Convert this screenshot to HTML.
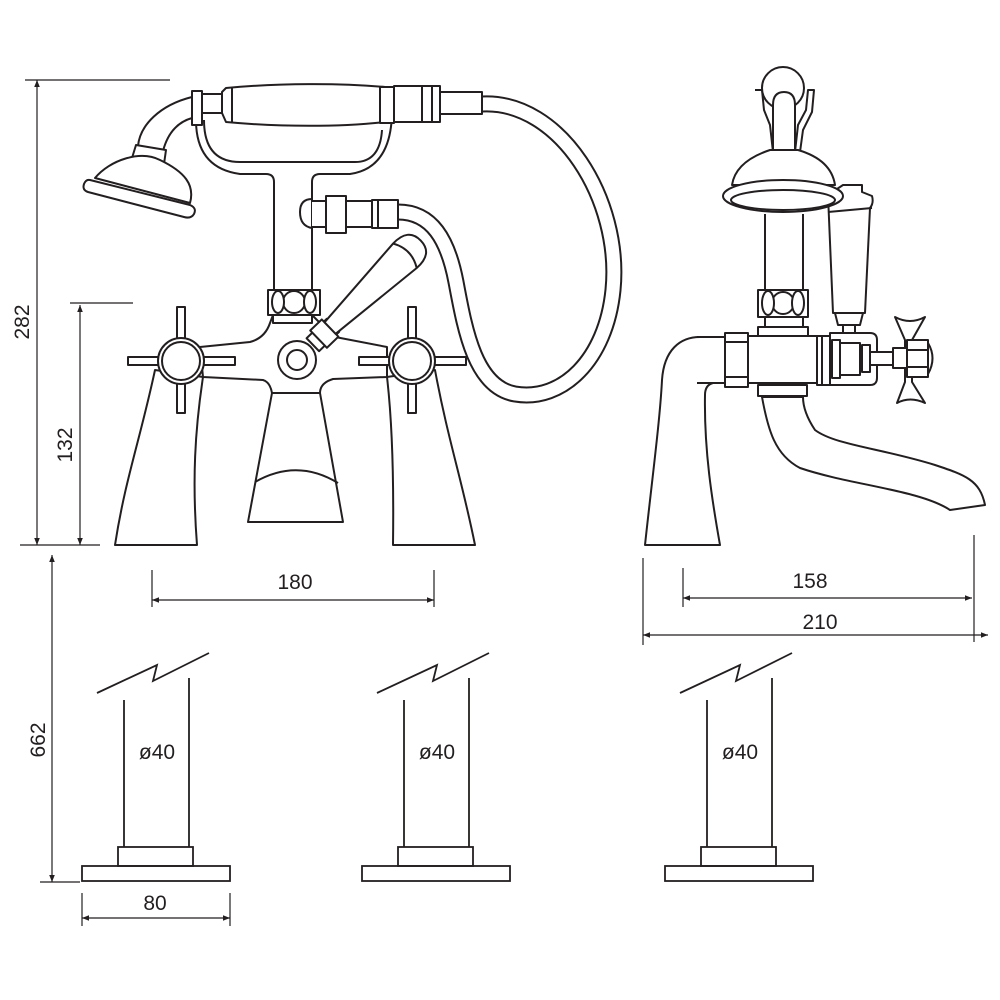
<!DOCTYPE html>
<html><head><meta charset="utf-8"><style>
html,body{margin:0;padding:0;background:#fff;width:1000px;height:1000px;overflow:hidden}
svg{display:block}
text{font-family:"Liberation Sans",sans-serif;fill:#231f20}
</style></head><body>
<svg width="1000" height="1000" viewBox="0 0 1000 1000" xmlns="http://www.w3.org/2000/svg">
<defs>
<marker id="ar" viewBox="0 0 10 10" refX="10" refY="5" markerWidth="9" markerHeight="7" orient="auto-start-reverse" markerUnits="userSpaceOnUse"><path d="M0,1 L10,5 L0,9 z" fill="#231f20"/></marker>
</defs>
<g fill="none" stroke="#231f20" stroke-width="1.2">
<!-- dimension lines -->
<line x1="25" y1="80" x2="170" y2="80"/>
<line x1="20" y1="545" x2="100" y2="545"/>
<line x1="37" y1="80" x2="37" y2="545" marker-start="url(#ar)" marker-end="url(#ar)"/>
<line x1="70" y1="303" x2="133" y2="303"/>
<line x1="80" y1="305" x2="80" y2="545" marker-start="url(#ar)" marker-end="url(#ar)"/>
<line x1="152" y1="570" x2="152" y2="607"/>
<line x1="434" y1="570" x2="434" y2="607"/>
<line x1="152" y1="600" x2="434" y2="600" marker-start="url(#ar)" marker-end="url(#ar)"/>
<line x1="683" y1="568" x2="683" y2="607"/>
<line x1="974" y1="535" x2="974" y2="642"/>
<line x1="683" y1="598" x2="972" y2="598" marker-start="url(#ar)" marker-end="url(#ar)"/>
<line x1="643" y1="558" x2="643" y2="645"/>
<line x1="643" y1="635" x2="988" y2="635" marker-start="url(#ar)" marker-end="url(#ar)"/>
<line x1="40" y1="882" x2="80" y2="882"/>
<line x1="52" y1="555" x2="52" y2="882" marker-start="url(#ar)" marker-end="url(#ar)"/>
<line x1="82" y1="893" x2="82" y2="926"/>
<line x1="230" y1="893" x2="230" y2="926"/>
<line x1="82" y1="918" x2="230" y2="918" marker-start="url(#ar)" marker-end="url(#ar)"/>
</g>
<g fill="none" stroke="#231f20" stroke-width="1.8">
<!-- pillars -->
<g id="pil">
<rect x="82" y="866" width="148" height="15"/>
<rect x="118" y="847" width="75" height="19"/>
<line x1="124" y1="700" x2="124" y2="847"/>
<line x1="189" y1="678" x2="189" y2="847"/>
<polyline points="97,693 157,665 153,681 209,653"/>
</g>
<use href="#pil" x="280"/>
<use href="#pil" x="583"/>
</g>
<g font-size="21" text-anchor="middle">
<text x="157" y="759">ø40</text>
<text x="437" y="759">ø40</text>
<text x="740" y="759">ø40</text>
<text x="155" y="910">80</text>
<text x="295" y="589">180</text>
<text x="810" y="588">158</text>
<text x="820" y="629">210</text>
<text transform="translate(29,322) rotate(-90)">282</text>
<text transform="translate(72,445) rotate(-90)">132</text>
<text transform="translate(45,740) rotate(-90)">662</text>
</g>

<!-- FRONT VIEW -->
<g fill="#fff" stroke="#231f20" stroke-width="2" stroke-linejoin="round">
<!-- hose -->
<path d="M482 104 C560 100 622 200 613 290 C606 360 562 402 515 394 C475 387 465 330 456 282 C448 240 432 212 398 212" stroke-width="17" fill="none"/>
<path d="M482 104 C560 100 622 200 613 290 C606 360 562 402 515 394 C475 387 465 330 456 282 C448 240 432 212 398 212" stroke="#fff" stroke-width="13" fill="none"/>
<!-- column -->
<path d="M274 290 L274 182 Q274 174 266 174 L240 174 Q196 168 196 120 M312 290 L312 182 Q312 174 320 174 L350 174 Q392 168 392 110" fill="none"/>
<path d="M204 120 Q204 162 240 162 L355 162 Q380 162 382 130" fill="none"/>
<!-- diverter -->
<path d="M312 199 Q300 199 300 212 Q300 226 312 228 Z"/>
<rect x="312" y="201" width="14" height="26" stroke="none"/>
<line x1="312" y1="201" x2="326" y2="201"/><line x1="312" y1="227" x2="326" y2="227"/>
<rect x="326" y="196" width="20" height="37"/>
<rect x="346" y="201" width="26" height="26"/>
<rect x="372" y="200" width="26" height="28"/>
<line x1="378" y1="200" x2="378" y2="228"/>
<!-- shower arm and head -->
<path d="M192 97 C160 105 140 125 138 146 L163 151 C168 132 178 122 192 118 Z"/>
<path d="M136 145 L166 150 L164 164 L132 158 Z"/>
<path d="M95 178 C110 160 140 150 160 160 C185 172 195 185 190 203 Z"/>
<path d="M90 180 L190 205 Q197 208 194 214 Q191 219 184 217 L88 192 Q82 190 84 184 Q86 179 90 180 Z"/>
<!-- handset -->
<rect x="192" y="91" width="10" height="34"/>
<path d="M202 94 L222 94 L222 113 L202 113 Z"/>
<path d="M222 92 L226 88 C280 83 340 83 385 87 L385 122 C340 127 280 127 226 122 L222 113 Z"/>
<line x1="232" y1="88" x2="232" y2="122"/>
<rect x="380" y="87" width="14" height="36"/>
<rect x="394" y="86" width="46" height="36"/>
<line x1="422" y1="86" x2="422" y2="122"/><line x1="432" y1="86" x2="432" y2="122"/>
<rect x="440" y="92" width="42" height="22"/>
<!-- legs -->
<path d="M155 370 C140 440 125 480 115 545 L197 545 C192 480 195 430 203 377 Z"/>
<path d="M435 370 C448 440 462 480 475 545 L393 545 C394 470 392 420 387 377 Z"/>
<!-- body -->
<path d="M200 347 L250 342 Q265 338 270 323 L273 315 L312 315 L320 323 L330 336 L387 347 L387 377 L333 379 Q320 383 320 393 L272 393 Q270 382 263 380 L203 377 Z"/>
<rect x="273" y="315" width="39" height="8"/>
<rect x="268" y="290" width="52" height="25"/>
<circle cx="294" cy="302" r="11"/>
<ellipse cx="278" cy="302" rx="6" ry="11"/><ellipse cx="310" cy="302" rx="6" ry="11"/>
<!-- spout center -->
<path d="M272 393 L248 522 L343 522 L320 393 Z"/>
<path d="M255 482 Q297 458 338 483" fill="none"/>
<!-- lever -->
<g transform="translate(297,360) rotate(-44)">
<rect x="22" y="-9" width="28" height="18"/>
<rect x="30" y="-12" width="16" height="24" transform="rotate(0)"/>
<path d="M46 -8 L150 -17 Q172 -18 172 0 Q172 18 150 17 L46 8 Z"/>
<path d="M150 -17 Q160 0 150 17" fill="none"/>
</g>
<circle cx="297" cy="360" r="19"/>
<circle cx="297" cy="360" r="10"/>
<!-- crosses -->
<g id="cr">
<rect x="128" y="357" width="107" height="8"/>
<rect x="177" y="307" width="8" height="106"/>
<circle cx="181" cy="361" r="23"/>
<circle cx="181" cy="361" r="19"/>
</g>
<use href="#cr" x="231"/>
</g>

<!-- SIDE VIEW -->
<g fill="#fff" stroke="#231f20" stroke-width="2" stroke-linejoin="round">
<!-- spout -->
<path d="M762 397 C768 430 775 455 800 468 C850 485 920 490 950 510 L985 505 C980 480 965 475 935 465 C880 448 835 445 815 430 C805 415 803 405 803 397 Z"/>
<rect x="758" y="385" width="49" height="11"/>
<!-- base leg -->
<path d="M645 545 C652 480 660 420 662 380 C664 350 680 337 700 337 L725 337 L725 383 L713 383 Q705 385 705 395 C704 450 712 500 720 545 Z"/>
<!-- lever side -->
<path d="M828 195 L843 185 L862 185 L862 192 L872 196 Q874 203 870 208 L865 313 L833 313 Z"/>
<line x1="828" y1="212" x2="872" y2="208"/>
<path d="M835 313 L863 313 L860 325 L838 325 Z"/>
<rect x="843" y="325" width="12" height="10"/>
<!-- column -->
<line x1="765" y1="214" x2="765" y2="290"/><line x1="803" y1="214" x2="803" y2="290"/>
<rect x="765" y="214" width="38" height="76" stroke="none"/>
<line x1="765" y1="214" x2="765" y2="290"/><line x1="803" y1="214" x2="803" y2="290"/>
<rect x="758" y="290" width="50" height="27"/>
<circle cx="783" cy="303" r="11"/>
<ellipse cx="768" cy="303" rx="6" ry="12"/><ellipse cx="798" cy="303" rx="6" ry="12"/>
<line x1="765" y1="317" x2="765" y2="327"/><line x1="803" y1="317" x2="803" y2="327"/>
<rect x="758" y="327" width="50" height="9"/>
<!-- top bracket -->
<path d="M755 90 L762 90 L764 110 L770 125 L773 152 L795 152 L798 125 L806 110 L808 90 L814 90 L812 112 L803 130 L800 152" fill="none"/>
<circle cx="783" cy="88" r="21"/>
<path d="M773 152 L773 105 Q773 92 784 92 Q795 92 795 105 L795 152 Z"/>
<!-- shower head side -->
<path d="M732 185 C735 165 755 155 770 150 L798 150 C815 155 832 165 835 185 Z"/>
<ellipse cx="783" cy="196" rx="60" ry="16"/>
<ellipse cx="783" cy="200" rx="52" ry="10" fill="none"/>
<!-- block -->
<path d="M697 337 L725 337 L725 383 L697 383" fill="none"/>
<rect x="725" y="333" width="23" height="54"/>
<line x1="725" y1="342" x2="748" y2="342"/><line x1="725" y1="377" x2="748" y2="377"/>
<rect x="748" y="336" width="69" height="47"/>
<rect x="817" y="336" width="13" height="49"/>
<line x1="822" y1="336" x2="822" y2="385"/>
<path d="M830 333 L870 333 Q877 333 877 340 L877 378 Q877 385 870 385 L830 385 Z"/>
<rect x="832" y="340" width="8" height="38"/>
<rect x="840" y="343" width="20" height="32"/>
<rect x="862" y="345" width="8" height="27"/>
<rect x="870" y="352" width="23" height="13"/>
<!-- butterfly -->
<path d="M895 317 Q910 325 925 317 L912 340 L912 382 L925 403 Q910 396 897 403 L905 382 L905 340 Z"/>
<rect x="893" y="348" width="14" height="20"/>
<path d="M928 343 Q937 358 928 374 Z"/>
<rect x="907" y="340" width="21" height="37"/>
<line x1="907" y1="350" x2="928" y2="350"/><line x1="907" y1="367" x2="928" y2="367"/>
</g>
</svg>
</body></html>
